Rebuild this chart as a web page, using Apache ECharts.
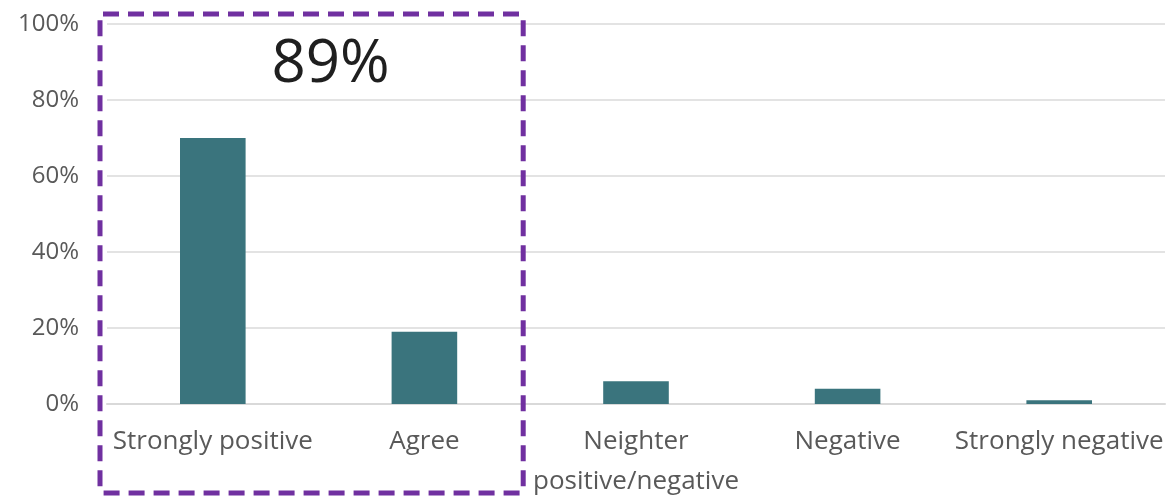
<!DOCTYPE html>
<html>
<head>
<meta charset="utf-8">
<script src="https://cdn.jsdelivr.net/npm/echarts@6/dist/echarts.min.js"></script>
<style>
  html, body { margin: 0; padding: 0; background: #ffffff; }
  #chart { width: 1170px; height: 498px; }
</style>
</head>
<body>
<div id="chart"></div>
<script>
// Survey responses, share of respondents per answer
const categories = ['Strongly positive', 'Agree', 'Neighter\npositive/negative', 'Negative', 'Strongly negative'];
const shares = [70, 19, 6, 4, 1];
const yTicks = [0, 20, 40, 60, 80, 100];
// The first two answers are grouped together in the highlighted box
const positiveCount = 2;
const positiveTotal = shares.slice(0, positiveCount).reduce((a, b) => a + b, 0);

const chart = echarts.init(document.getElementById('chart'), null, { renderer: 'canvas' });

chart.setOption({
  animation: false,
  backgroundColor: '#ffffff',
  grid: { left: 107, right: 5, top: 24, bottom: 94, outerBoundsMode: 'none', containLabel: false },
  xAxis: {
    type: 'category',
    data: categories,
    axisLine: { show: true, lineStyle: { color: '#d9d9d9', width: 2 } },
    axisTick: { show: false },
    axisLabel: {
      color: '#595959',
      fontFamily: 'Open Sans',
      fontSize: 26,
      margin: 18,
      lineHeight: 40,
      interval: 0
    }
  },
  yAxis: {
    type: 'value',
    min: yTicks[0],
    max: yTicks[yTicks.length - 1],
    interval: 20,
    axisLine: { show: false },
    axisTick: { show: false },
    splitLine: { lineStyle: { color: '#e3e3e3', width: 2 } },
    axisLabel: {
      color: '#595959',
      fontFamily: 'Open Sans',
      fontSize: 24,
      margin: 28,
      formatter: v => v + '%'
    }
  },
  series: [{
    type: 'bar',
    data: shares,
    barWidth: '31%',
    itemStyle: { color: '#3a747d' }
  }]
});

// Highlight box around the positive answers, with their combined share
function drawHighlight() {
  const x0 = chart.convertToPixel({ xAxisIndex: 0 }, 0);
  const x1 = chart.convertToPixel({ xAxisIndex: 0 }, positiveCount - 1);
  const band = chart.convertToPixel({ xAxisIndex: 0 }, 1) - x0;
  const left = x0 - band / 2 - 7;
  const right = x1 + band / 2 - 7;
  chart.setOption({
    graphic: [
      {
        type: 'rect',
        shape: { x: left, y: 14, width: right - left, height: 479, r: 3 },
        style: {
          fill: 'none',
          stroke: '#7030a0',
          lineWidth: 5,
          lineDash: [16, 9]
        },
        z: 10
      },
      {
        type: 'text',
        x: (left + right) / 2 + 19,
        y: 65,
        style: {
          text: positiveTotal + '%',
          fill: '#1f1f1f',
          font: '60px "Open Sans"',
          align: 'center',
          verticalAlign: 'middle'
        },
        z: 10
      }
    ]
  });
}
drawHighlight();
</script>
</body>
</html>
